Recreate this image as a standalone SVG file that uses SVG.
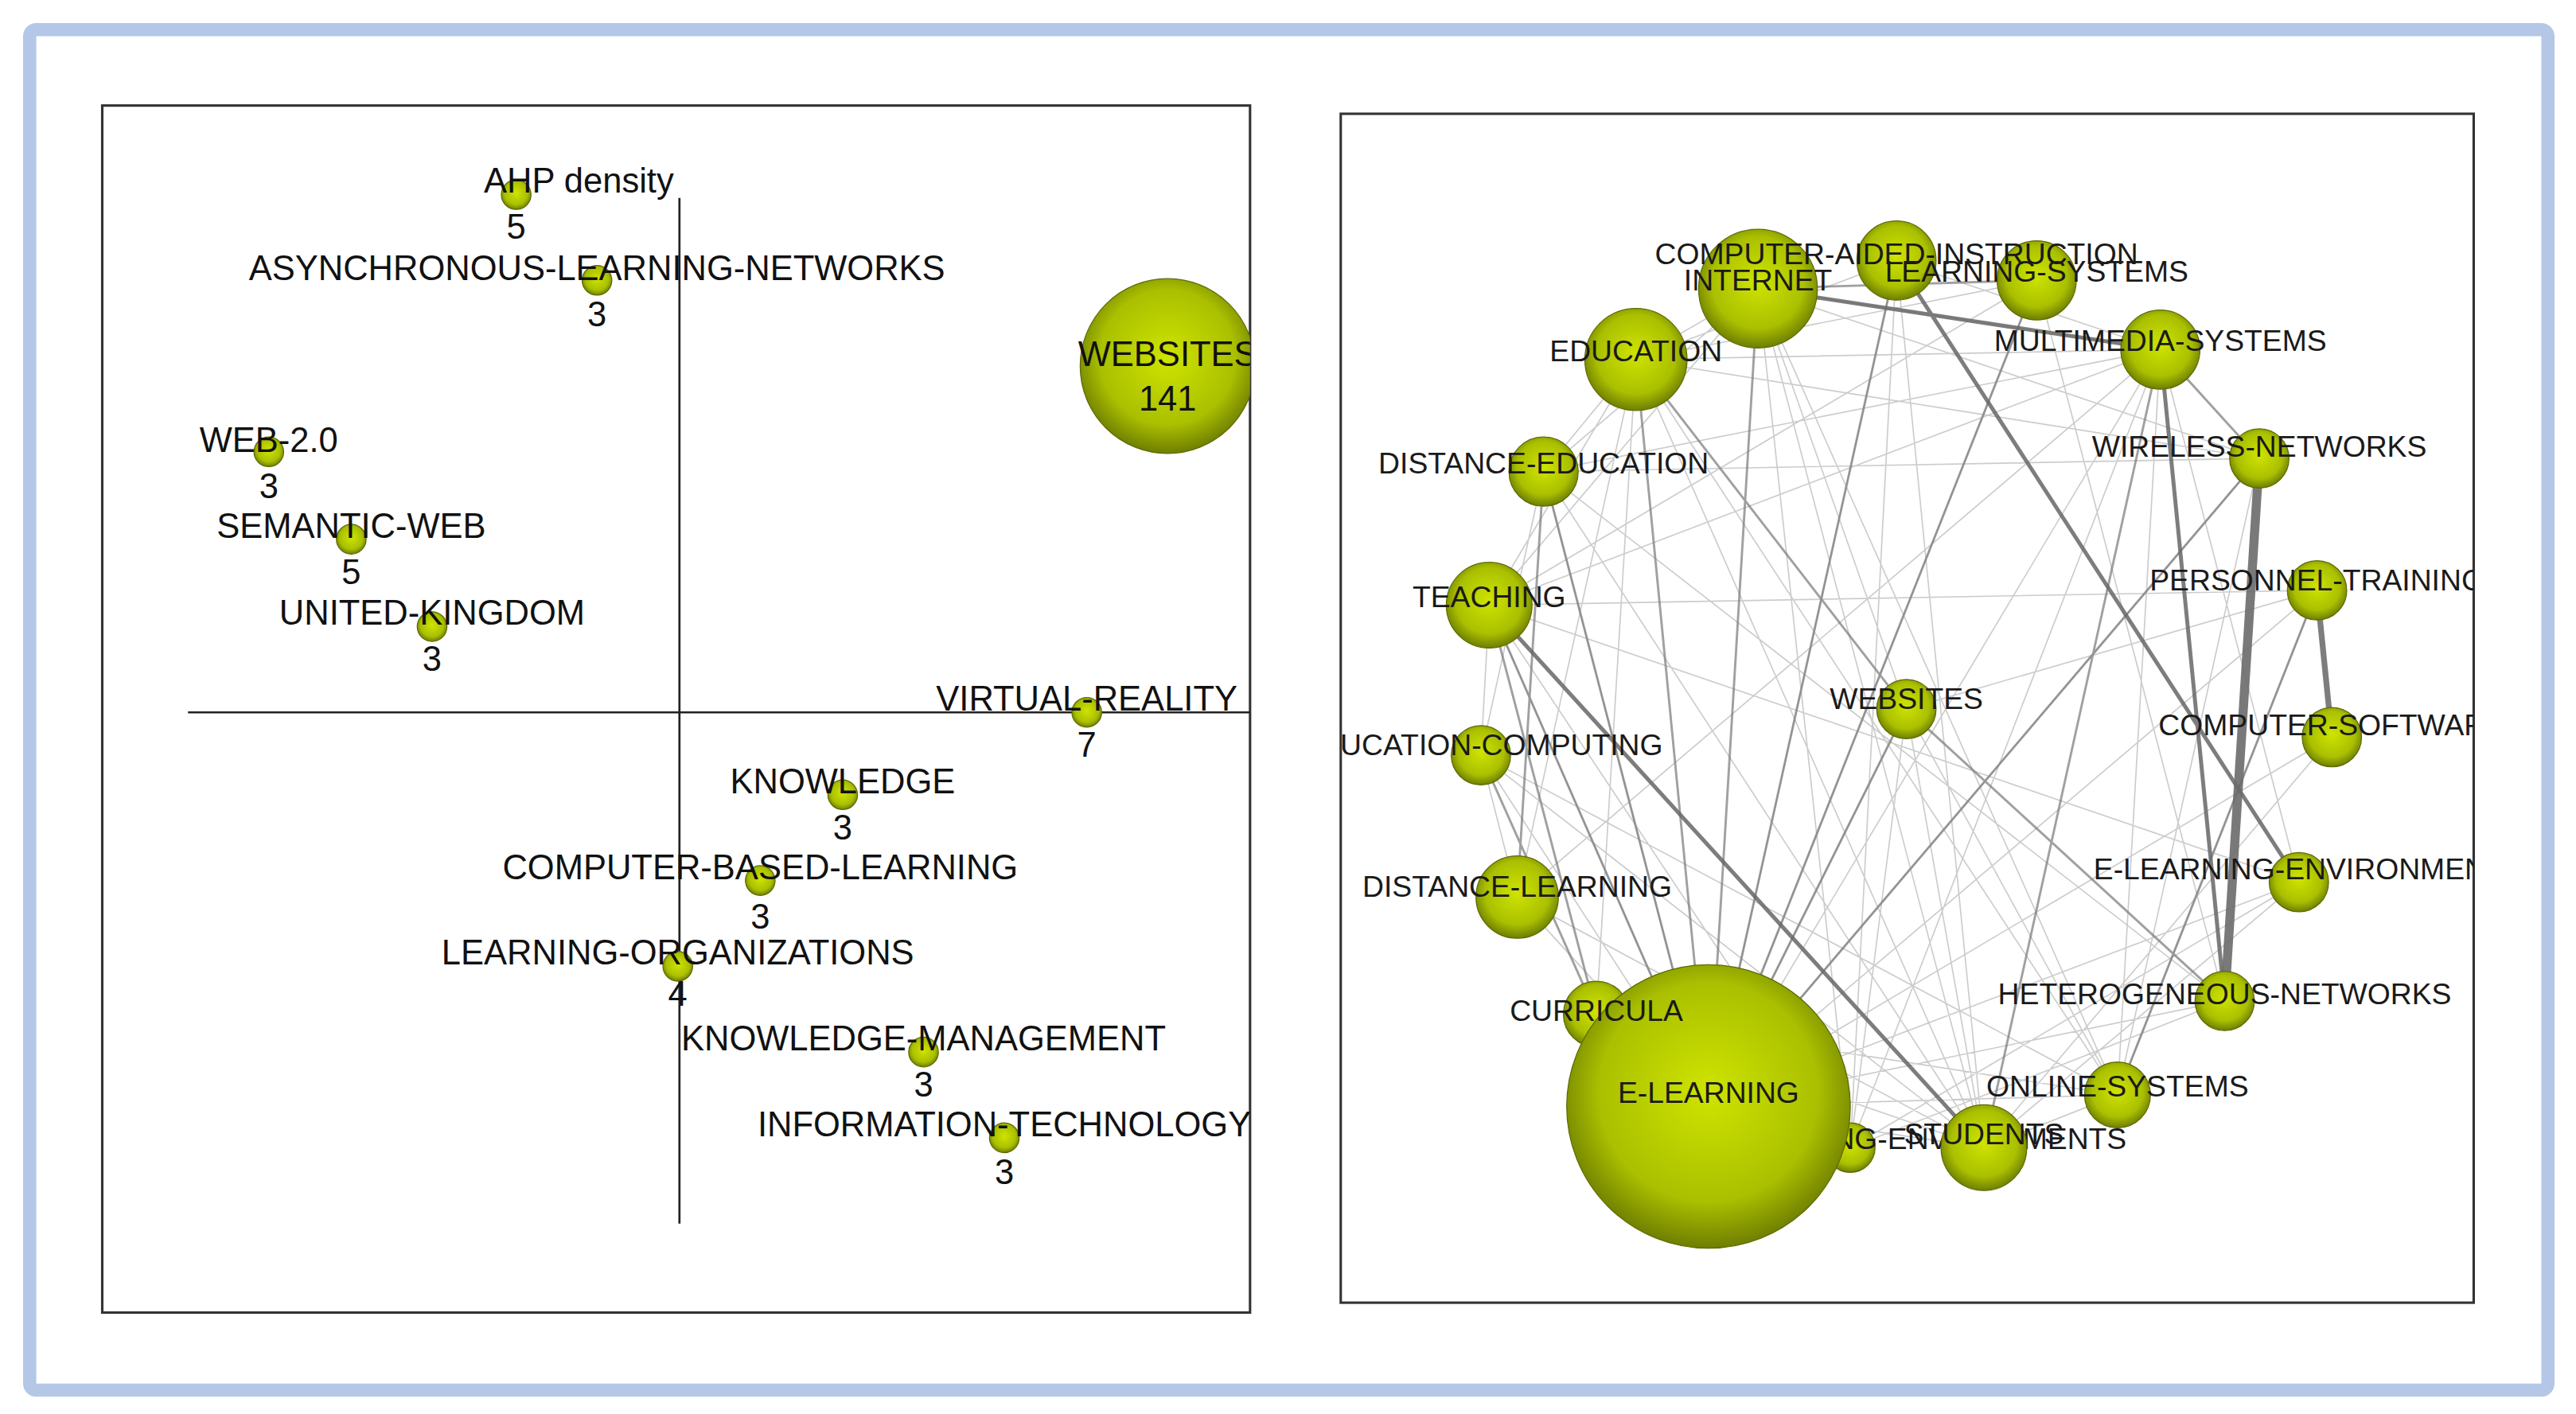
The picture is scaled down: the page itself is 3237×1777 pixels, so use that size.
<svg xmlns="http://www.w3.org/2000/svg" width="3237" height="1777" viewBox="0 0 3237 1777">
<defs>
<radialGradient id="g" cx="0.5" cy="0.45" r="0.55">
<stop offset="0" stop-color="#cfe400"/><stop offset="0.7" stop-color="#aac000"/><stop offset="1" stop-color="#6f7e00"/>
</radialGradient>
<clipPath id="cl"><rect x="62" y="64" width="696" height="732"/></clipPath>
<clipPath id="cr"><rect x="813" y="69" width="687" height="721"/></clipPath>
</defs>
<style>
.n{fill:url(#g);stroke:#5d6a00;stroke-width:0.6}
text{font-family:"Liberation Sans",Arial,sans-serif;font-size:21px;fill:#111;text-anchor:middle}
text.r{font-size:18px;fill:#1a1a1a}
.e{fill:none;stroke:#999;stroke-width:0.8;stroke-opacity:0.5}
.m{fill:none;stroke:#777;stroke-width:1.4;stroke-opacity:0.7}
.d{fill:none;stroke:#666;stroke-width:2.4;stroke-opacity:0.85}
</style>
<rect width="3237" height="1777" fill="#fff"/>
<g transform="scale(2.0723)">
<rect x="18" y="18" width="1527" height="825" rx="4" fill="#fff" stroke="#b4c7e7" stroke-width="8"/>
<g id="left-panel">
<rect x="62" y="64" width="696" height="732" fill="#fff" stroke="#333" stroke-width="1.5"/>
<g id="axes" stroke="#222" stroke-width="1.3"><line x1="412" y1="120" x2="412" y2="742"/><line x1="114" y1="432" x2="758" y2="432"/></g>
<g clip-path="url(#cl)">
<g id="l-ahp"><circle class="n" cx="313" cy="118" r="9"/><text x="351" y="117">AHP density</text><text x="313" y="145">5</text></g>
<g id="l-async"><circle class="n" cx="362" cy="170" r="9"/><text x="362" y="170">ASYNCHRONOUS-LEARNING-NETWORKS</text><text x="362" y="198">3</text></g>
<g id="l-websites"><circle class="n" cx="708" cy="222" r="53"/><text x="708" y="222">WEBSITES</text><text x="708" y="249">141</text></g>
<g id="l-web20"><circle class="n" cx="163" cy="274" r="9"/><text x="163" y="274">WEB-2.0</text><text x="163" y="302">3</text></g>
<g id="l-semantic"><circle class="n" cx="213" cy="327" r="9"/><text x="213" y="326">SEMANTIC-WEB</text><text x="213" y="354">5</text></g>
<g id="l-uk"><circle class="n" cx="262" cy="380" r="9"/><text x="262" y="379">UNITED-KINGDOM</text><text x="262" y="407">3</text></g>
<g id="l-vr"><circle class="n" cx="659" cy="432" r="9"/><text x="659" y="431">VIRTUAL-REALITY</text><text x="659" y="459">7</text></g>
<g id="l-knowledge"><circle class="n" cx="511" cy="482" r="9"/><text x="511" y="481">KNOWLEDGE</text><text x="511" y="509">3</text></g>
<g id="l-cbl"><circle class="n" cx="461" cy="534" r="9"/><text x="461" y="533">COMPUTER-BASED-LEARNING</text><text x="461" y="563">3</text></g>
<g id="l-lo"><circle class="n" cx="411" cy="586" r="9"/><text x="411" y="585">LEARNING-ORGANIZATIONS</text><text x="411" y="610">4</text></g>
<g id="l-km"><circle class="n" cx="560" cy="638" r="9"/><text x="560" y="637">KNOWLEDGE-MANAGEMENT</text><text x="560" y="665">3</text></g>
<g id="l-it"><circle class="n" cx="609" cy="690" r="9"/><text x="609" y="689">INFORMATION-TECHNOLOGY</text><text x="609" y="718">3</text></g>
</g>
</g>
<g id="right-panel">
<rect x="813" y="69" width="687" height="721" fill="#fff" stroke="#333" stroke-width="1.5"/>
<g clip-path="url(#cr)">
<g id="connectors">
<path class="e" d="M1066 175L992 218M1066 175L1310 212M1066 175L936 286M1066 175L903 367M1066 175L1156 430M1066 175L1203 696M1066 175L1284 664M1066 175L1370 278M1150 158L992 218M1150 158L1310 212M1150 158L1036 671M1150 158L1122 696M1150 158L1203 696M1235 170L992 218M1235 170L1036 671M1235 170L1349 607M1235 170L903 367M992 218L1310 212M992 218L936 286M992 218L903 367M992 218L1203 696M992 218L1284 664M992 218L1370 278M992 218L920 544M1310 212L936 286M1310 212L903 367M1310 212L1036 671M1310 212L1122 696M1310 212L1394 535M1310 212L1284 664M936 286L1370 278M936 286L1203 696M936 286L1036 671M936 286L1349 607M903 367L1394 535M903 367L1122 696M903 367L1036 671M903 367L898 458M903 367L1405 358M898 458L1036 671M898 458L1284 664M898 458L920 544M898 458L1203 696M920 544L1036 671M920 544L1203 696M920 544L1310 212M968 615L1203 696M968 615L1284 664M968 615L992 218M1156 430L1203 696M1156 430L1284 664M1156 430L1122 696M1156 430L1036 671M1156 430L1405 358M1414 447L1036 671M1414 447L1203 696M1394 535L1036 671M1394 535L1122 696M1405 358L1284 664M1405 358L1036 671M1370 278L1284 664M1370 278L1036 671M1349 607L1036 671M1349 607L1122 696M1284 664L1036 671M1284 664L1203 696M1122 696L1036 671M1203 696L1036 671M936 286L898 458M1394 535L1203 696M1066 175L1122 696"/>
<path class="m" d="M1066 175L1036 671M992 218L1036 671M936 286L920 544M903 367L1036 671M903 367L968 615M898 458L968 615M1310 212L1203 696M1370 278L1036 671M1156 430L1036 671M1156 430L1349 607M992 218L1156 430M1235 170L1036 671M1066 175L1235 170M1310 212L1370 278M1405 358L1284 664M1150 158L1036 671M936 286L1036 671"/>
<path class="d" d="M1066 175L1310 212M1150 158L1394 535M1310 212L1349 607M903 367L1203 696"/>
<path fill="none" stroke="#666" stroke-opacity="0.85" stroke-width="3.5" d="M1405 358L1414 447"/>
<path fill="none" stroke="#6a6a6a" stroke-opacity="0.9" stroke-width="5.5" d="M1370 278L1349 607"/>
</g>
<g id="r-ci"><circle class="n" cx="1150" cy="158" r="24"/></g>
<g id="r-ls"><circle class="n" cx="1235" cy="170" r="24"/></g>
<g id="r-internet"><circle class="n" cx="1066" cy="175" r="36"/></g>
<g id="r-education"><circle class="n" cx="992" cy="218" r="31"/></g>
<g id="r-mm"><circle class="n" cx="1310" cy="212" r="24"/></g>
<g id="r-de"><circle class="n" cx="936" cy="286" r="21"/></g>
<g id="r-wn"><circle class="n" cx="1370" cy="278" r="18"/></g>
<g id="r-teaching"><circle class="n" cx="903" cy="367" r="26"/></g>
<g id="r-pt"><circle class="n" cx="1405" cy="358" r="18"/></g>
<g id="r-websites"><circle class="n" cx="1156" cy="430" r="18"/></g>
<g id="r-cs"><circle class="n" cx="1414" cy="447" r="18"/></g>
<g id="r-ec"><circle class="n" cx="898" cy="458" r="18"/></g>
<g id="r-dl"><circle class="n" cx="920" cy="544" r="25"/></g>
<g id="r-ele"><circle class="n" cx="1394" cy="535" r="18"/></g>
<g id="r-hn"><circle class="n" cx="1349" cy="607" r="18"/></g>
<g id="r-curricula"><circle class="n" cx="968" cy="615" r="20"/></g>
<g id="r-os"><circle class="n" cx="1284" cy="664" r="20"/></g>
<g id="r-le"><circle class="n" cx="1122" cy="696" r="15"/><text class="r" x="1168" y="697">LEARNING-ENVIRONMENTS</text></g>
<g id="r-elearning"><circle class="n" cx="1036" cy="671" r="86"/></g>
<g id="r-students"><circle class="n" cx="1203" cy="696" r="26"/></g>
<g id="r-labels">
<text class="r" x="1150" y="160">COMPUTER-AIDED-INSTRUCTION</text>
<text class="r" x="1066" y="176">INTERNET</text>
<text class="r" x="1235" y="171">LEARNING-SYSTEMS</text>
<text class="r" x="992" y="219">EDUCATION</text>
<text class="r" x="1310" y="213">MULTIMEDIA-SYSTEMS</text>
<text class="r" x="936" y="287">DISTANCE-EDUCATION</text>
<text class="r" x="1370" y="277">WIRELESS-NETWORKS</text>
<text class="r" x="903" y="368">TEACHING</text>
<text class="r" x="1405" y="358">PERSONNEL-TRAINING</text>
<text class="r" x="1156" y="430">WEBSITES</text>
<text class="r" x="1414" y="446">COMPUTER-SOFTWARE</text>
<text class="r" x="898" y="458">EDUCATION-COMPUTING</text>
<text class="r" x="920" y="544">DISTANCE-LEARNING</text>
<text class="r" x="1394" y="533">E-LEARNING-ENVIRONMENT</text>
<text class="r" x="1349" y="609">HETEROGENEOUS-NETWORKS</text>
<text class="r" x="968" y="619">CURRICULA</text>
<text class="r" x="1284" y="665">ONLINE-SYSTEMS</text>
<text class="r" x="1036" y="669">E-LEARNING</text>
<text class="r" x="1203" y="694">STUDENTS</text>
</g>
</g>
</g>
</g>
</svg>
